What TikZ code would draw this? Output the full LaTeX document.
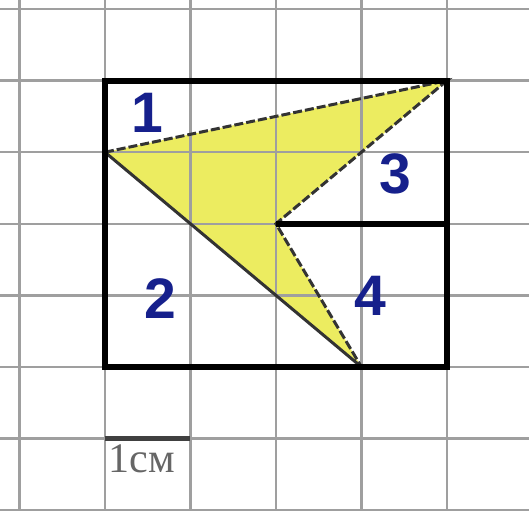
\documentclass[tikz,border=0pt]{standalone}
\usepackage{fontspec}
\setmainfont{Liberation Serif}
\newfontfamily\numfont{Liberation Sans}
\usetikzlibrary{positioning}
\definecolor{piecefill}{RGB}{236,236,96}
\definecolor{numblue}{RGB}{22,32,140}
\tikzset{
  cell/.style={gray!75, line width=0.8pt},
  frame/.style={black, line width=2pt},
  cut/.style={black!80, line width=1pt},
  cutdash/.style={black!80, line width=1pt, dash pattern=on 3pt off 1pt},
  partno/.style={text=numblue, font=\numfont\bfseries\fontsize{19}{19}\selectfont}
}
\begin{document}
\begin{tikzpicture}[x=1cm, y=0.8374cm]
      \useasboundingbox (-1.228,-2.01) rectangle (4.96,5.126);
      \fill[white] (-1.228,-2.01) rectangle (4.96,5.126);
      \coordinate (A) at (0,3); \coordinate (B) at (4,4);
      \coordinate (C) at (2,2); \coordinate (D) at (3,0);
      \coordinate (M) at (4,2);
      % shaded piece
      \fill[piecefill] (A) -- (B) -- (C) -- (D) -- cycle;
      % squared paper
      \foreach \i in {-1,...,4} \draw[cell] (\i,-2.01) -- (\i,5.126);
      \foreach \j in {-2,...,5} \draw[cell] (-1.228,\j) -- (4.96,\j);
      \draw[cutdash] (A) -- (B) -- (C) -- (D);
      \draw[cut] (D) -- (A);
      \draw[frame] (0,0) rectangle (4,4);
      \draw[frame] (C) -- (M);
      \node[partno] (n1) at (0.5,3.55) {1};
      \node[partno] (n2) at (0.65,0.95) {2};
      \node[partno] (n3) at (3.4,2.7) {3};
      \node[partno] (n4) at (3.1,1.0) {4};
      % scale bar
      \coordinate (s0) at (0,-1); \coordinate (s1) at (1,-1);
      \draw[black!75, line width=1.5pt] (s0) -- (s1);
      \node[anchor=north west, inner sep=1pt, yshift=-1pt, text=black!60, font=\fontsize{14}{14}\selectfont] (unit) at (s0) {1см};
\end{tikzpicture}
\end{document}
